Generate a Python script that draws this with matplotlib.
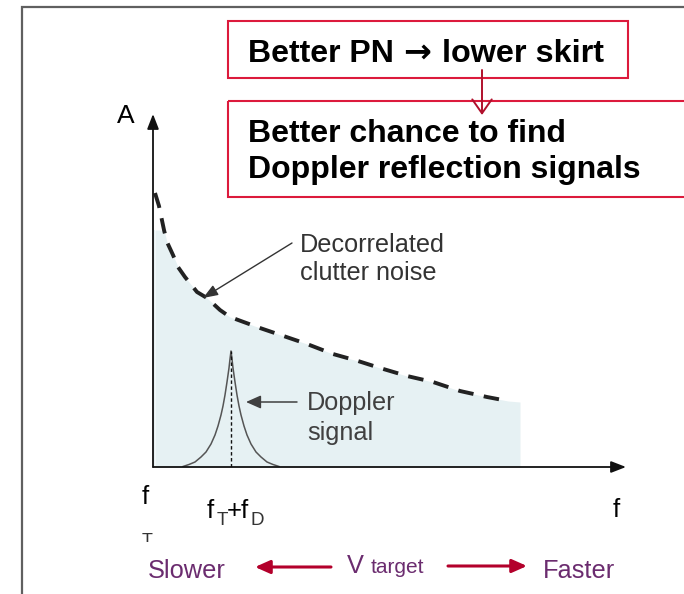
import matplotlib
matplotlib.use("Agg")
import matplotlib.pyplot as plt
from matplotlib.patches import Rectangle
import numpy as np

plt.rcParams['font.family'] = ['Liberation Sans', 'DejaVu Sans']

# ---- data (frequency f / amplitude A, arbitrary units) ----
clutter_f = [2, 6, 11, 14, 20, 25, 32, 44, 54, 67, 77, 107, 154, 180, 205, 227, 254, 280, 307, 334, 355]
clutter_A = [274, 261, 237, 225, 212, 200, 190, 175, 169, 157, 150, 139, 123, 113, 106, 99, 91, 85, 76, 70, 66]
fill_end_f = 367
fill_end_A = 65
fill_top_A = 237

doppler_center = 78
doppler_offset = [-48, -42, -36, -30, -25, -20, -16, -13, -10, -8, -6, -4, -3, -2, -1, 0,
                  1, 2, 3, 4, 6, 8, 10, 13, 16, 20, 25, 30, 36, 42, 48]
doppler_A = [0.5, 2.5, 5, 10, 15, 23, 32, 41, 52, 61, 72, 85, 92, 99, 108, 116,
             108, 99, 92, 85, 72, 61, 52, 41, 32, 23, 15, 10, 5, 2.5, 0.5]

f_max = 473
A_max = 353

W, H = 684, 594
fig = plt.figure(figsize=(W / 100, H / 100), dpi=100)

# inner plot axes (origin at the axis corner)
x0, y0 = 153, 467
pa = fig.add_axes([x0 / W, (H - y0) / H, f_max / W, A_max / H])
pa.set_xlim(0, f_max)
pa.set_ylim(0, A_max)
pa.axis('off')

fill_f = np.array(clutter_f + [fill_end_f])
fill_A = np.minimum(np.array(clutter_A + [fill_end_A]), fill_top_A)
pa.fill_between(fill_f, 0, fill_A, color='#e6f1f3', lw=0, zorder=1)
pa.fill_between([0, fill_f[0]], 0, [fill_top_A, fill_top_A], color='#e6f1f3', lw=0, zorder=1)
pa.plot(clutter_f, clutter_A, color='#222222', lw=2.8, dashes=(4.0, 2.7), zorder=3,
        solid_capstyle='butt', dash_capstyle='butt')

dx = doppler_center + np.array(doppler_offset)
pa.plot(dx, doppler_A, color='#555555', lw=1.1, zorder=3)
pa.plot([doppler_center, doppler_center], [0, max(doppler_A)], color='#111111', lw=1.0,
        dashes=(2.5, 1.8), zorder=3)

# axes with arrows
for tip in [(f_max, 0), (0, A_max)]:
    pa.annotate('', xy=tip, xytext=(0, 0),
                arrowprops=dict(arrowstyle='-|>,head_length=0.9,head_width=0.35', color='#111111', lw=1.3,
                                shrinkA=0, shrinkB=0), annotation_clip=False, zorder=4)

# overlay axes in pixel coordinates for annotations
ax = fig.add_axes([0, 0, 1, 1])
ax.set_xlim(0, W)
ax.set_ylim(H, 0)
ax.axis('off')
ax.patch.set_alpha(0)

# frame (top and left edges visible)
ax.plot([22, 22, W + 5], [H + 5, 7, 7], color='#606060', lw=1.6, solid_joinstyle='miter')

box_red = '#dc1a3c'
ax.add_patch(Rectangle((228, 21), 400, 57, fill=False, edgecolor=box_red, lw=1.5))
ax.add_patch(Rectangle((228, 101), 470, 96, fill=False, edgecolor=box_red, lw=1.5))
ax.text(248, 62, 'Better PN', fontsize=23, fontweight='bold', va='baseline')
ax.text(403, 62, '\u2192', fontsize=24, fontweight='bold', va='baseline', family=['DejaVu Sans'])
ax.text(442, 62, 'lower skirt', fontsize=23.3, fontweight='bold', va='baseline')
ax.text(248, 142, 'Better chance to find', fontsize=23, fontweight='bold', va='baseline')
ax.text(248, 178, 'Doppler reflection signals', fontsize=23, fontweight='bold', va='baseline')
ax.annotate('', xy=(482, 115), xytext=(482, 70),
            arrowprops=dict(arrowstyle='->,head_length=0.5,head_width=0.35', color='#b0102c', lw=1.4,
                            shrinkA=0, shrinkB=0, mutation_scale=20))

ax.text(117, 123, 'A', fontsize=19, va='baseline')

gray_txt = '#333333'
ax.text(300, 252, 'Decorrelated', fontsize=18.2, color=gray_txt, va='baseline')
ax.text(300, 280, 'clutter noise', fontsize=18.2, color=gray_txt, va='baseline')
ax.annotate('', xy=(203, 298), xytext=(292, 243),
            arrowprops=dict(arrowstyle='-|>,head_length=0.45,head_width=0.17', color='#333333', lw=1.0,
                            shrinkA=0, shrinkB=0, mutation_scale=20))

ax.text(307, 410, 'Doppler', fontsize=18.2, color='#404040', va='baseline')
ax.text(307, 440, 'signal', fontsize=18.2, color='#404040', va='baseline')
ax.annotate('', xy=(246, 402), xytext=(297, 402),
            arrowprops=dict(arrowstyle='-|>,head_length=0.45,head_width=0.2', color='#404040', lw=1.1,
                            shrinkA=0, shrinkB=0, mutation_scale=20))

# frequency labels
ax.text(142, 504, 'f', fontsize=18.5, va='baseline')
ax.text(142, 546, 'T', fontsize=13, color='#333333', va='baseline', zorder=2)
ax.add_patch(Rectangle((130, 541.5), 40, 14, facecolor='white', edgecolor='none', zorder=3))
ax.text(207, 518, 'f', fontsize=18.5, va='baseline')
ax.text(217, 525, 'T', fontsize=13.5, color='#333333', va='baseline')
ax.text(227, 518, '+f', fontsize=18.5, va='baseline')
ax.text(250, 525, 'D', fontsize=13.5, color='#333333', va='baseline')
ax.text(613, 517, 'f', fontsize=18.5, va='baseline')

purple = '#6b2c6f'
ax.text(148, 578, 'Slower', fontsize=18.3, color=purple, va='baseline')
ax.text(543, 578, 'Faster', fontsize=18.3, color=purple, va='baseline')
ax.text(347, 573, 'V', fontsize=18.3, color=purple, va='baseline')
ax.text(371, 573, 'target', fontsize=15, color=purple, va='baseline')
red_arrow = '#b3002b'
ax.annotate('', xy=(255, 567), xytext=(331, 567),
            arrowprops=dict(arrowstyle='-|>,head_length=0.9,head_width=0.4', color=red_arrow, lw=2.2,
                            shrinkA=0, shrinkB=0))
ax.annotate('', xy=(527, 566), xytext=(448, 566),
            arrowprops=dict(arrowstyle='-|>,head_length=0.9,head_width=0.4', color=red_arrow, lw=2.2,
                            shrinkA=0, shrinkB=0))

fig.savefig('out.png', dpi=100)
